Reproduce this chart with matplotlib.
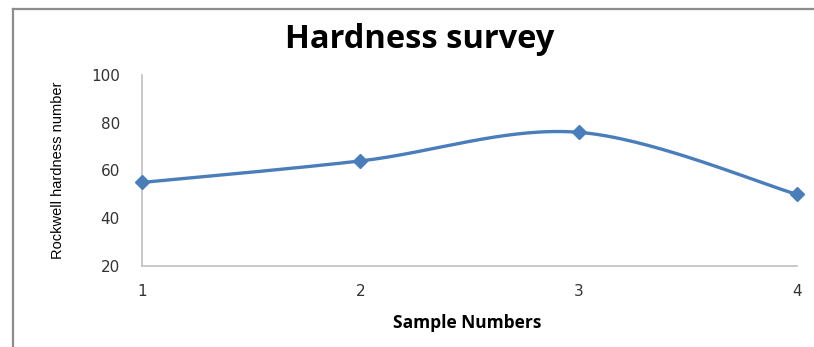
import numpy as np
import matplotlib
matplotlib.use("Agg")
import matplotlib.pyplot as plt
from matplotlib.lines import Line2D

# Survey data
samples = [1, 2, 3, 4]
hardness = [55, 64, 76, 50]
y_ticks = [20, 40, 60, 80, 100]

title = "Hardness survey"
x_label = "Sample Numbers"
y_label = "Rockwell hardness number"

LINE_BLUE = "#4a7ebb"


def smooth_curve(xs, ys, n=60):
    """Bezier smoothing through every point (tangents from neighbours)."""
    pts = np.column_stack([xs, ys]).astype(float)
    ext = np.vstack([pts[0], pts, pts[-1]])
    out = []
    for i in range(len(pts) - 1):
        p0, p1, p2, p3 = ext[i], ext[i + 1], ext[i + 2], ext[i + 3]
        c1 = p1 + (p2 - p0) / 6.0
        c2 = p2 - (p3 - p1) / 6.0
        t = np.linspace(0, 1, n)[:, None]
        seg = ((1 - t) ** 3) * p1 + 3 * ((1 - t) ** 2) * t * c1 \
            + 3 * (1 - t) * t ** 2 * c2 + t ** 3 * p2
        out.append(seg if i == 0 else seg[1:])
    out = np.vstack(out)
    return out[:, 0], out[:, 1]


W, H = 814, 347
fig = plt.figure(figsize=(W / 100, H / 100), dpi=100)
fig.patch.set_facecolor("white")

# chart-area frame: only the left and top edges fall inside the image
fx, fy = 13.5 / W, 1 - 8.5 / H
fig.lines.append(Line2D([fx, fx], [-0.05, fy], transform=fig.transFigure,
                        color="#8c8c8c", linewidth=1.6))
fig.lines.append(Line2D([fx, 1.05], [fy, fy], transform=fig.transFigure,
                        color="#8c8c8c", linewidth=1.6))

ax = fig.add_axes([142 / W, 1 - 266 / H, 655 / W, 191 / H])

sx, sy = smooth_curve(samples, hardness)
ax.plot(sx, sy, color=LINE_BLUE, linewidth=2.4, solid_capstyle="round",
        clip_on=False, zorder=3)
ax.plot(samples, hardness, linestyle="none", marker="D", markersize=7.5,
        color=LINE_BLUE, clip_on=False, zorder=4)

ax.set_xlim(1, 4)
ax.set_ylim(20, 100)
ax.set_xticks(samples)
ax.set_yticks(y_ticks)
ax.tick_params(length=0, labelsize=11, pad=13)
ax.tick_params(axis="y", pad=16)
for lbl in ax.get_xticklabels() + ax.get_yticklabels():
    lbl.set_family(["DejaVu Sans"])
    lbl.set_color("#333333")

for side in ("top", "right"):
    ax.spines[side].set_visible(False)
for side in ("left", "bottom"):
    ax.spines[side].set_color("#c0c0c0")
    ax.spines[side].set_linewidth(1.2)

fig.text(420 / W, 1 - 40 / H, title, ha="center", va="center",
         fontsize=23.5, fontweight="bold", family=["Open Sans", "DejaVu Sans"])
fig.text(467 / W, 1 - 323 / H, x_label, ha="center", va="center",
         fontsize=12.5, fontweight="bold", family=["Open Sans", "DejaVu Sans"])
fig.text(58 / W, 1 - 170 / H, y_label, ha="center", va="center",
         rotation=90, fontsize=10.5, color="#000000",
         family=["Liberation Sans Narrow", "Liberation Sans", "DejaVu Sans"])

fig.savefig("out.png", dpi=100, facecolor="white")
